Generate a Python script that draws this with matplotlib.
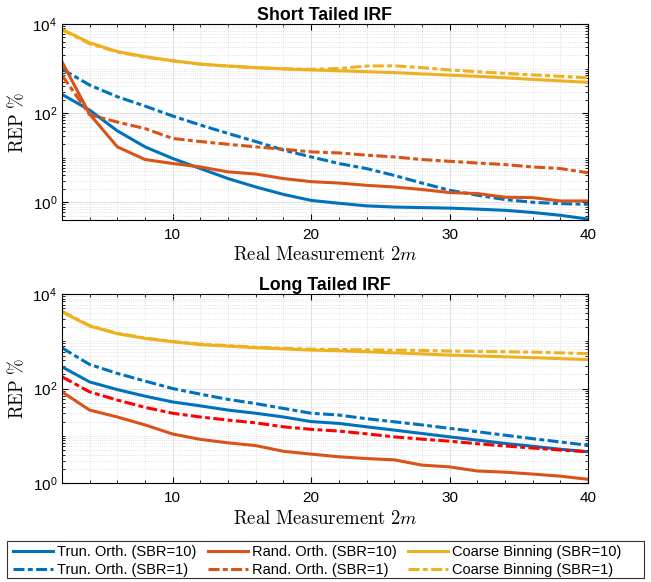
import matplotlib.pyplot as plt
from matplotlib.patches import Rectangle
from matplotlib.ticker import LogLocator, NullFormatter, FixedLocator, MultipleLocator

plt.rcParams['font.family'] = ['Liberation Sans', 'DejaVu Sans']
plt.rcParams['mathtext.fontset'] = 'cm'

# measurement counts
x = [2, 4, 6, 8, 10, 12, 14, 16, 18, 20, 22, 24, 26, 28, 30, 32, 34, 36, 38, 40]

# Short tailed IRF
short_trun10 = [263, 117, 40, 17.5, 9.6, 5.7, 3.4, 2.2, 1.5, 1.1, 0.95, 0.83, 0.78, 0.76, 0.74, 0.70, 0.66, 0.59, 0.51, 0.42]
short_trun1 = [975, 426, 233, 144, 86, 54, 35, 23, 14.8, 10.4, 7.4, 5.7, 4.0, 2.7, 1.86, 1.44, 1.15, 1.0, 0.93, 0.9]
short_rand10 = [1420, 95, 17.5, 9.1, 7.4, 6.2, 4.8, 4.3, 3.4, 2.9, 2.7, 2.4, 2.2, 1.93, 1.65, 1.57, 1.3, 1.27, 1.07, 1.07]
short_rand1 = [710, 92, 63, 45, 27, 23, 20, 17.5, 15.5, 13.5, 12.8, 11.4, 10.4, 9.1, 8.3, 7.6, 7.0, 6.2, 5.7, 4.6]
short_coarse10 = [7600, 3800, 2400, 1850, 1500, 1260, 1140, 1050, 980, 930, 890, 850, 810, 760, 710, 670, 620, 570, 530, 490]
short_coarse1 = [7400, 3600, 2350, 1800, 1480, 1250, 1130, 1040, 990, 960, 1000, 1140, 1150, 1050, 930, 850, 780, 720, 670, 620]

# Long tailed IRF
long_trun10 = [288, 138, 95, 69, 52, 43, 35, 30, 25, 20, 18.3, 15.5, 13.2, 11.2, 9.5, 8.1, 6.9, 6.0, 5.2, 4.6]
long_trun1 = [725, 323, 209, 144, 100, 76, 59, 48, 38, 30, 27.5, 23, 19.8, 17, 14.4, 12.2, 10.3, 8.7, 7.4, 6.3]
long_rand10 = [85, 35, 25, 17, 10.9, 8.4, 7.1, 6.2, 4.7, 4.1, 3.6, 3.3, 3.1, 2.4, 2.2, 1.8, 1.7, 1.55, 1.4, 1.2]
long_rand1 = [177, 85, 57, 40, 30, 25, 21.5, 18.8, 15.5, 13.7, 12.6, 11, 9.5, 8.5, 7.7, 6.8, 6.1, 5.5, 5.0, 4.6]
long_coarse10 = [4200, 2100, 1450, 1150, 975, 850, 790, 730, 690, 650, 630, 600, 570, 540, 510, 490, 470, 450, 430, 410]
long_coarse1 = [4300, 2150, 1470, 1170, 990, 870, 810, 750, 710, 680, 670, 660, 650, 640, 620, 610, 600, 590, 570, 550]

blue = '#0072BD'
orange = '#D95319'
yellow = '#EDB120'
dashdot = (0, (3.6, 1.1, 1.6, 1.1))
lw = 2.2

fig = plt.figure(figsize=(6.51, 5.82), dpi=100)
ax1 = fig.add_axes([0.0952, 0.622, 0.808, 0.3368])
ax2 = fig.add_axes([0.0952, 0.170, 0.808, 0.3248])


def style_axis(ax, title, ylim):
    ax.set_yscale('log')
    ax.set_xlim(2, 40)
    ax.set_ylim(*ylim)
    ax.set_title(title, fontsize=12.8, fontweight='bold', pad=3)
    ax.set_xlabel(r'$\mathrm{Real\ Measurement}\ 2m$', fontsize=13.5, labelpad=3)
    ax.set_ylabel(r'$\mathrm{REP}\ \%$', fontsize=13.5, labelpad=4)
    ax.xaxis.set_major_locator(FixedLocator([10, 20, 30, 40]))
    ax.xaxis.set_minor_locator(MultipleLocator(2))
    ax.yaxis.set_major_locator(FixedLocator([1, 100, 10000]))
    ax.yaxis.set_minor_locator(LogLocator(base=10, subs=range(1, 10), numticks=20))
    ax.yaxis.set_minor_formatter(NullFormatter())
    ax.tick_params(which='both', direction='in', top=True, right=True, labelsize=11)
    ax.tick_params(axis='x', which='major', pad=6)
    ax.tick_params(which='major', length=4.5)
    ax.tick_params(which='minor', length=2.5)
    ax.grid(which='major', color='#d9d9d9', linewidth=0.6)
    ax.grid(which='minor', color='#d9d9d9', linestyle=':', linewidth=0.6)
    ax.set_axisbelow(True)
    for s in ax.spines.values():
        s.set_linewidth(0.8)


h1, = ax1.plot(x, short_trun10, color=blue, lw=lw, label='Trun. Orth. (SBR=10)')
h2, = ax1.plot(x, short_trun1, color=blue, lw=lw, ls=dashdot, label='Trun. Orth. (SBR=1)')
h3, = ax1.plot(x, short_rand10, color=orange, lw=lw, label='Rand. Orth. (SBR=10)')
h4, = ax1.plot(x, short_rand1, color=orange, lw=lw, ls=dashdot, label='Rand. Orth. (SBR=1)')
h5, = ax1.plot(x, short_coarse10, color=yellow, lw=lw, label='Coarse Binning (SBR=10)')
h6, = ax1.plot(x, short_coarse1, color=yellow, lw=lw, ls=dashdot, label='Coarse Binning (SBR=1)')
style_axis(ax1, 'Short Tailed IRF', (0.4, 1e4))

ax2.plot(x, long_trun10, color=blue, lw=lw)
ax2.plot(x, long_trun1, color=blue, lw=lw, ls=dashdot)
ax2.plot(x, long_rand10, color=orange, lw=lw)
ax2.plot(x, long_rand1, color='#FF0000', lw=lw, ls=dashdot)
ax2.plot(x, long_coarse10, color=yellow, lw=lw)
ax2.plot(x, long_coarse1, color=yellow, lw=lw, ls=dashdot)
style_axis(ax2, 'Long Tailed IRF', (1, 1e4))

# legend box like MATLAB's (wider than its entries)
fig.patches.append(Rectangle((7 / 651, 1 - 578 / 582), 637 / 651, 37 / 582,
                             transform=fig.transFigure, fill=False,
                             edgecolor='#333333', linewidth=0.8))
handles = [h1, h2, h3, h4, h5, h6]
fig.legend(handles, [h.get_label() for h in handles],
           loc='upper left', bbox_to_anchor=(13 / 651, 1 - 545 / 582), ncol=3,
           fontsize=10.5, frameon=False, handlelength=2.75, handletextpad=0.3,
           columnspacing=0.75, borderpad=0, borderaxespad=0, labelspacing=0.3)

fig.savefig('out.png', dpi=100)
